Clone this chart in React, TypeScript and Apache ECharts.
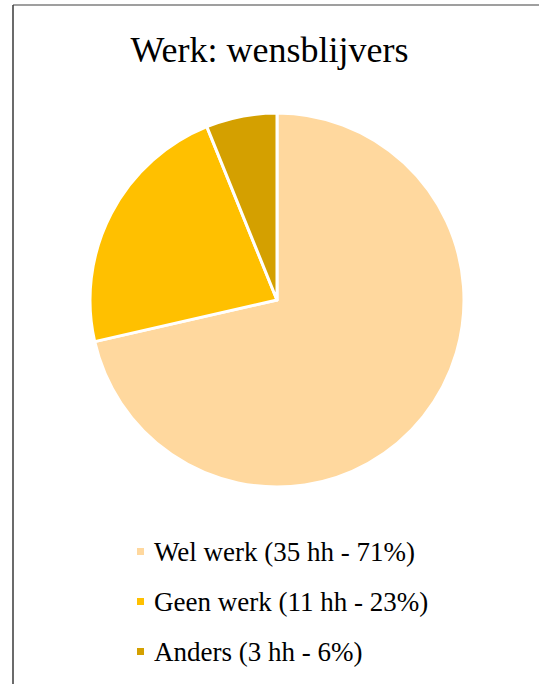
import React, { useEffect, useRef } from "react";
import * as echarts from "echarts";

const categories = ["Wel werk (35 hh - 71%)", "Geen werk (11 hh - 23%)", "Anders (3 hh - 6%)"];
const values = [35, 11, 3];
const colors = ["#FFD89E", "#FFC000", "#D4A000"];
const titleText = "Werk: wensblijvers";

export default function App() {
  const ref = useRef<HTMLDivElement>(null);
  useEffect(() => {
    document.body.style.margin = "0";
    const chart = echarts.init(ref.current!, null, { renderer: "svg" });
    chart.setOption({
      animation: false,
      backgroundColor: "#ffffff",
      title: {
        text: titleText,
        left: "center",
        top: 27,
        textStyle: {
          fontFamily: "Liberation Serif",
          fontSize: 36,
          fontWeight: "normal",
          color: "#000000",
        },
      },
      legend: {
        orient: "vertical",
        left: 130,
        top: 533,
        itemWidth: 9,
        itemHeight: 9,
        itemGap: 23,
        icon: "rect",
        textStyle: {
          fontFamily: "Liberation Serif",
          fontSize: 27,
          color: "#000000",
          padding: [0, 0, 0, 4],
        },
        data: categories,
      },
      graphic: [
        { type: "line", shape: { x1: 13, y1: 5, x2: 539, y2: 5 }, style: { stroke: "#7f7f7f", lineWidth: 1.5 } },
        { type: "line", shape: { x1: 13, y1: 5, x2: 13, y2: 684 }, style: { stroke: "#3a3a3a", lineWidth: 1.5 } },
      ],
      series: [
        {
          type: "pie",
          center: [277, 300],
          radius: 187,
          startAngle: 90,
          clockwise: true,
          label: { show: false },
          labelLine: { show: false },
          emphasis: { disabled: true },
          itemStyle: { borderColor: "#ffffff", borderWidth: 3 },
          data: categories.map((name, i) => ({
            name,
            value: values[i],
            itemStyle: { color: colors[i] },
          })),
        },
      ],
    });
    return () => chart.dispose();
  }, []);
  return <div ref={ref} style={{ width: 539, height: 684 }} />;
}
